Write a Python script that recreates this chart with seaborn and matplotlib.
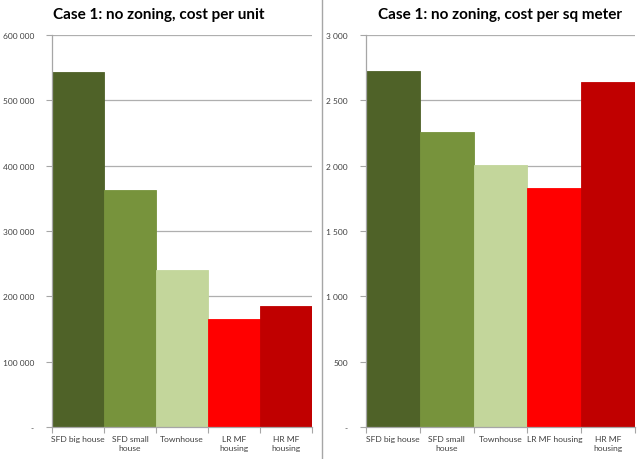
import matplotlib
matplotlib.use("Agg")
import matplotlib.pyplot as plt
import seaborn as sns
import pandas as pd
from matplotlib.ticker import FuncFormatter, FixedLocator

categories = ["SFD big house", "SFD small house", "Townhouse", "LR MF housing", "HR MF housing"]
cost_per_unit = [544000, 362000, 240000, 165000, 185000]
cost_per_sqm = [2721, 2257, 2002, 1832, 2643]
labels_left = ["SFD big house", "SFD small\nhouse", "Townhouse", "LR MF\nhousing", "HR MF\nhousing"]
labels_right = ["SFD big house", "SFD small\nhouse", "Townhouse", "LR MF housing", "HR MF\nhousing"]
titles = ["Case 1: no zoning, cost per unit", "Case 1: no zoning, cost per sq meter"]
colors = ["#4F6228", "#77933C", "#C3D69B", "#FF0000", "#C00000"]

sns.set_style("white")
plt.rcParams['font.family'] = ['Lato', 'DejaVu Sans']

fig = plt.figure(figsize=(6.4, 4.6), dpi=100)
W, H = 640, 460

def fmt(v, pos):
    if abs(v) < 1e-9:
        return "-"
    return f"{v:,.0f}".replace(",", " ")

def make(ax, vals, labels, ymax, step):
    df = pd.DataFrame({"cat": categories, "val": vals})
    sns.barplot(data=df, x="cat", y="val", hue="cat", palette=colors, width=1.0,
                legend=False, ax=ax, saturation=1, linewidth=0.6,
                edgecolor=None)
    for p, c in zip(ax.patches, colors):
        p.set_edgecolor(c)
    ax.set_xlim(-0.5, 4.5)
    ax.set_ylim(0, ymax)
    ax.set_yticks([i * step for i in range(int(ymax / step) + 1)])
    ax.yaxis.set_major_formatter(FuncFormatter(fmt))
    ax.yaxis.grid(True, color="#AFAFAF", linewidth=0.9)
    ax.set_axisbelow(True)
    ax.set_xlabel("")
    ax.set_ylabel("")
    ax.set_xticks(range(5))
    ax.set_xticklabels(labels, fontsize=6.1, color="#404040", linespacing=1.35)
    ax.xaxis.set_minor_locator(FixedLocator([i - 0.5 for i in range(6)]))
    ax.tick_params(axis="x", which="major", length=0, pad=6)
    ax.tick_params(axis="x", which="minor", length=4, color="#A6A6A6", width=0.8, direction="out", bottom=True)
    ax.tick_params(axis="y", length=4, color="#A6A6A6", width=0.8, direction="out", left=True,
                   labelsize=6.0, labelcolor="#404040", pad=9)
    for s in ["top", "right"]:
        ax.spines[s].set_visible(False)
    for s in ["left", "bottom"]:
        ax.spines[s].set_color("#A6A6A6")
        ax.spines[s].set_linewidth(0.9)

ax1 = fig.add_axes([52 / W, (H - 428) / H, 260 / W, 392 / H])
make(ax1, cost_per_unit, labels_left, 600000, 100000)
ax2 = fig.add_axes([366 / W, (H - 428) / H, 269 / W, 392 / H])
make(ax2, cost_per_sqm, labels_right, 3000, 500)

fig.text(159 / W, 1 - 15 / H, titles[0], ha="center", va="center", fontsize=11, fontweight="bold", color="black")
fig.text(500 / W, 1 - 15 / H, titles[1], ha="center", va="center", fontsize=11, fontweight="bold", color="black")

fig.add_artist(plt.Line2D([321.5 / W, 321.5 / W], [0, 1], color="#A6A6A6", linewidth=1.0, transform=fig.transFigure))

fig.savefig("out.png", dpi=100, facecolor="white")
